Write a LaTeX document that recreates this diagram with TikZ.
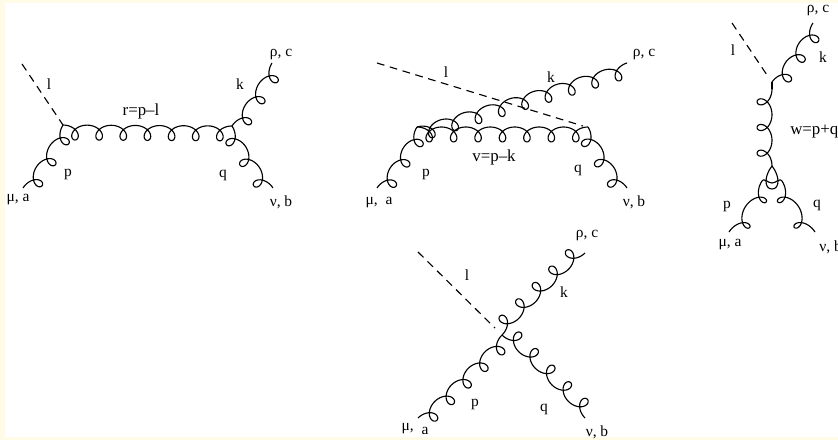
\documentclass[tikz,border=0pt]{standalone}
\usepackage{fontspec}
\setmainfont{Liberation Serif}
\usetikzlibrary{calc}
\definecolor{qcream}{RGB}{255, 251, 230}
% gluon line from #1 to #2 with #3 windings, loops on the right hand side
\newcommand{\gluonline}[3]{%
    \path let \p1=($(#2)-(#1)$) in \pgfextra{%
        \pgfmathsetmacro\tmplen{veclen(\x1,\y1)}\global\let\gluonlen\tmplen
        \pgfmathsetmacro\tmpang{atan2(\y1,\x1)}\global\let\gluonang\tmpang};
    \draw[gluon, shift={(#1)}, rotate=\gluonang]
        plot[domain=0:360*#3, samples=36*#3+1]
        ({(\x/(360*#3)*\gluonlen+6*sin(\x))*1pt},{-5.3*(1-cos(\x))*1pt});
}

\begin{document}
\begin{tikzpicture}[
    x=0.025cm, y=-0.025cm,
    gluon/.style={line width=0.8pt, line join=round},
    scalar/.style={draw, line width=0.8pt, dash pattern=on 5.5pt off 4pt},
    lab/.style={font=\fontsize{11pt}{13pt}\selectfont, inner sep=0pt},
    eqlab/.style={font=\fontsize{12pt}{14pt}\selectfont, inner sep=0pt},
]
    \useasboundingbox (0,0) rectangle (838,440);
    \fill[qcream] (0,0) rectangle (838,440);
    \fill[white] (5,3) rectangle (838,437);

    % Diagram with r channel
    \coordinate (ra) at (63,125);
    \coordinate (rb) at (232,126);
    \coordinate (rmu) at (23,188);
    \coordinate (rnu) at (273,188);
    \coordinate (rrho) at (272,63);
    \coordinate (rl) at (22,64);
    \gluonline{rmu}{ra}{3}
    \gluonline{ra}{rb}{7}
    \gluonline{rb}{rrho}{3}
    \gluonline{rb}{rnu}{3}
    \draw[scalar] (rl) -- (ra);
    \node[lab] (rlabl) at (49,84) {l};
    \node[eqlab] (rlabr) at (141,111) {r=p--l};
    \node[lab] (rlabp) at (68,175) {p};
    \node[lab] (rlabq) at (223,175) {q};
    \node[lab] (rlabk) at (240,84) {k};
    \node[lab] (rlabrho) at (281,55) {ρ, c};
    \node[lab] (rlabmu) at (18,200) {μ, a};
    \node[lab] (rlabnu) at (281,202) {ν, b};

    % Diagram with v channel
    \coordinate (va) at (417,127);
    \coordinate (vb) at (588,127);
    \coordinate (vmu) at (377,188);
    \coordinate (vnu) at (627,188);
    \coordinate (vrho) at (627,63);
    \coordinate (vl) at (377,63);
    \coordinate (vle) at (583,126);
    \gluonline{vmu}{va}{3}
    \gluonline{va}{vb}{7}
    \gluonline{vb}{vnu}{3}
    \gluonline{va}{vrho}{9}
    \draw[scalar] (vl) -- (vle);
    \node[lab] (vlabl) at (446,72) {l};
    \node[lab] (vlabk) at (551,77) {k};
    \node[eqlab] (vlabv) at (494,157) {v=p--k};
    \node[lab] (vlabp) at (426,175) {p};
    \node[lab] (vlabq) at (578,170) {q};
    \node[lab] (vlabrho) at (644,55) {ρ, c};
    \node[lab] (vlabmu) at (379,203) {μ,\ \ a};
    \node[lab] (vlabnu) at (634,202) {ν, b};

    % Diagram with w channel
    \coordinate (wa) at (772,82);
    \coordinate (wd) at (772,89);
    \coordinate (wb) at (772,166);
    \coordinate (wc) at (772,183);
    \coordinate (wcl) at (762,181);
    \coordinate (wcr) at (782,181);
    \coordinate (wmu) at (729,232);
    \coordinate (wnu) at (815,232);
    \coordinate (wrho) at (813,23);
    \coordinate (wl) at (732,23);
    \coordinate (wle) at (767,75);
    \gluonline{wa}{wrho}{3}
    \draw[gluon] (wa) -- (wd);
    \gluonline{wd}{wb}{3}
    \gluonline{wmu}{wcl}{2}
    \gluonline{wcr}{wnu}{2}
    \draw[gluon] (wcl) to[out=65, in=180] (wc) to[out=0, in=115] (wcr);
    \draw[gluon] (wb) .. controls (764,176) and (764,189) .. (772,189) .. controls (780,189) and (780,176) .. (wb);
    \draw[scalar] (wl) -- (wle);
    \node[lab] (wlabl) at (733,50) {l};
    \node[lab] (wlabk) at (823,57) {k};
    \node[lab] (wlabrho) at (818,11) {ρ, c};
    \node[eqlab, anchor=west] (wlabw) at (790,132) {w=p+q};
    \node[lab] (wlabp) at (727,207) {p};
    \node[lab] (wlabq) at (817,205) {q};
    \node[lab] (wlabmu) at (730,245) {μ, a};
    \node[lab, anchor=west] (wlabnu) at (819,247) {ν, b};

    % Four point diagram
    \coordinate (xa) at (502,335);
    \coordinate (xmu) at (418,418);
    \coordinate (xnu) at (585,418);
    \coordinate (xrho) at (585,253);
    \coordinate (xl) at (418,252);
    \coordinate (xle) at (495,328);
    \gluonline{xmu}{xa}{5}
    \gluonline{xrho}{xa}{5}
    \gluonline{xnu}{xa}{5}
    \draw[scalar] (xl) -- (xle);
    \node[lab] (xlabl) at (467,275) {l};
    \node[lab] (xlabk) at (564,292) {k};
    \node[lab] (xlabp) at (475,405) {p};
    \node[lab] (xlabq) at (544,409) {q};
    \node[lab] (xlabrho) at (587,236) {ρ, c};
    \node[lab] (xlabmu) at (415,429) {μ,\ \ \raisebox{-2.5pt}{a}};
    \node[lab] (xlabnu) at (597,432) {ν, b};
\end{tikzpicture}
\end{document}
